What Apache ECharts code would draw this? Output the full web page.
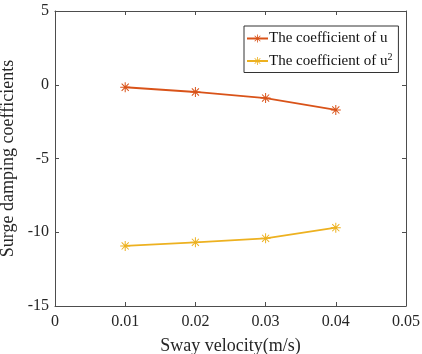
<!DOCTYPE html>
<html>
<head>
<meta charset="utf-8">
<script src="https://cdn.jsdelivr.net/npm/echarts@6/dist/echarts.min.js"></script>
<style>
  html, body { margin: 0; padding: 0; background: #fff; }
  #chart { width: 422px; height: 354px; }
</style>
</head>
<body>
<div id="chart"></div>
<script>
// sway velocity (m/s)
var velocity = [0.01, 0.02, 0.03, 0.04]
// coefficient of u
var coefU = [-0.17, -0.49, -0.90, -1.71]
// coefficient of u^2
var coefU2 = [-10.93, -10.68, -10.41, -9.69]
var seriesNames = ['The coefficient of u', 'The coefficient of u2']

// asterisk marker, all pieces wound the same way so nothing cancels out
var star = 'path://M-1,-10 L1,-10 L1,10 L-1,10 Z M-10,-1 L10,-1 L10,1 L-10,1 Z ' +
  'M-7.8,-6.4 L-6.4,-7.8 L7.8,6.4 L6.4,7.8 Z M6.4,-7.8 L7.8,-6.4 L-6.4,7.8 L-7.8,6.4 Z'

var font = 'Liberation Serif, Times New Roman, serif'
var axisColor = '#4d4d4d'
var textColor = '#262626'

function pairs(xs, ys) {
  return xs.map(function (x, i) { return [x, ys[i]] })
}

var chart = echarts.init(document.getElementById('chart'), null, { renderer: 'canvas' })

// top / right axes only draw the box edge and the inward ticks
var sideAxis = {
  axisLine: { show: true, onZero: false, lineStyle: { color: axisColor, width: 1 } },
  axisTick: { show: true, inside: true, length: 4, lineStyle: { color: axisColor } },
  axisLabel: { show: false },
  splitLine: { show: false }
}

chart.setOption({
  animation: false,
  backgroundColor: '#fff',
  textStyle: { fontFamily: font, color: textColor },
  grid: { left: 55, top: 11, width: 351, height: 295, containLabel: false, outerBoundsMode: 'none' },
  legend: {
    orient: 'vertical',
    left: 244,
    top: 26,
    padding: [5, 6, 4, 2],
    itemGap: 6,
    itemWidth: 21,
    itemHeight: 10,
    borderColor: '#333',
    borderWidth: 1,
    backgroundColor: '#fff',
    data: seriesNames,
    formatter: function (name) {
      if (name === seriesNames[1]) return 'The coefficient of u{sup|2}'
      return name
    },
    textStyle: {
      fontFamily: font, fontSize: 15, color: '#111', padding: [0, 0, 0, -4],
      rich: {
        sup: { fontFamily: font, fontSize: 10, color: '#111', verticalAlign: 'top', padding: [0, 0, 8, 0] }
      }
    }
  },
  xAxis: [{
    type: 'value',
    min: 0,
    max: 0.05,
    interval: 0.01,
    name: 'Sway velocity(m/s)',
    nameLocation: 'middle',
    nameGap: 31,
    nameTextStyle: { fontFamily: font, fontSize: 18, color: textColor },
    axisLine: { show: true, onZero: false, lineStyle: { color: axisColor, width: 1 } },
    axisTick: { show: true, inside: true, length: 4, lineStyle: { color: axisColor } },
    axisLabel: { fontFamily: font, fontSize: 16, color: textColor, margin: 8 },
    splitLine: { show: false }
  }, Object.assign({
    type: 'value', position: 'top', min: 0, max: 0.05, interval: 0.01
  }, sideAxis)],
  yAxis: [{
    type: 'value',
    min: -15,
    max: 5,
    interval: 5,
    name: 'Surge damping coefficients',
    nameLocation: 'middle',
    nameGap: 32,
    nameTextStyle: { fontFamily: font, fontSize: 18, color: textColor },
    axisLine: { show: true, onZero: false, lineStyle: { color: axisColor, width: 1 } },
    axisTick: { show: true, inside: true, length: 4, lineStyle: { color: axisColor } },
    axisLabel: { fontFamily: font, fontSize: 16, color: textColor, margin: 6 },
    splitLine: { show: false }
  }, Object.assign({
    type: 'value', position: 'right', min: -15, max: 5, interval: 5
  }, sideAxis)],
  series: [{
    name: seriesNames[0],
    type: 'line',
    data: pairs(velocity, coefU),
    symbol: star,
    symbolSize: 10,
    showAllSymbol: true,
    lineStyle: { color: '#D95319', width: 1.8 },
    itemStyle: { color: '#D95319' }
  }, {
    name: seriesNames[1],
    type: 'line',
    data: pairs(velocity, coefU2),
    symbol: star,
    symbolSize: 10,
    showAllSymbol: true,
    lineStyle: { color: '#EDB120', width: 1.8 },
    itemStyle: { color: '#EDB120' }
  }]
})
</script>
</body>
</html>
